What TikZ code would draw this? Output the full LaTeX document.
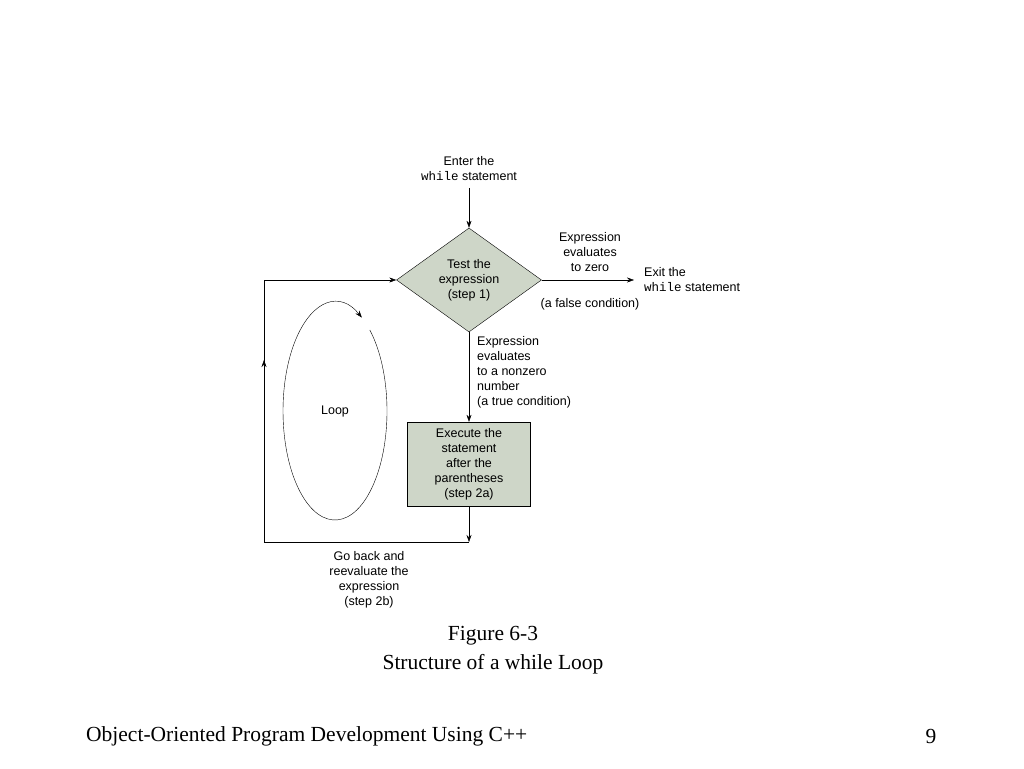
\documentclass[tikz,border=0pt]{standalone}
\usepackage{fontspec}
\setmainfont{Liberation Serif}
\setsansfont{Liberation Sans}
\setmonofont{Liberation Mono}
\usetikzlibrary{shapes.geometric,arrows.meta}
\begin{document}
\begin{tikzpicture}[x=1pt,y=1pt]
        %colores
        \definecolor{boxfill}{RGB}{206,214,200}
        \tikzset{
            flow/.style={-{Stealth[length=7pt,width=5pt]},thin},
            lbl/.style={font=\sffamily\fontsize{12.5}{15}\selectfont,align=center,inner sep=0pt},
            captext/.style={font=\fontsize{21.5}{26}\selectfont,inner sep=0pt}
        }
        \useasboundingbox (0,0) rectangle (1024,768);

        % Figura
        \node[diamond,draw,fill=boxfill,minimum width=145pt,minimum height=104pt,inner sep=0pt,lbl] (test) at (469,488) {Test the\\expression\\(step 1)};
        \node[draw,fill=boxfill,minimum width=123pt,minimum height=84pt,lbl] (exec) at (469,304) {Execute the\\statement\\after the\\parentheses\\(step 2a)};

        \node[lbl] (enter) at (469,599) {Enter the\\\texttt{while} statement};
        \node[lbl,anchor=west,align=left] (exit) at (644,488) {Exit the\\\texttt{while} statement};
        \coordinate (exitpt) at (634,488);
        \coordinate (back) at (469,226);
        \coordinate (bl) at (264,226);
        \coordinate (tl) at (264,488);

        % flechas
        \draw[flow] (469,580) -- (test.north);
        \draw[flow] (test.east) -- (exitpt);
        \draw[flow] (test.south) -- (exec.north);
        \draw[flow] (exec.south) -- (back);
        \draw (back) -- (bl) -- (tl);
        \draw[flow] (tl) -- (test.west);
        \draw[flow] (bl) -- (264,408);

        % textos
        \node[lbl] (zero) at (590,516) {Expression\\evaluates\\to zero};
        \node[lbl] (false) at (590,464) {(a false condition)};
        \node[lbl,anchor=west,align=left] (true) at (477,396) {Expression\\evaluates\\to a nonzero\\number\\(a true condition)};
        \node[lbl] (goback) at (369,188) {Go back and\\reevaluate the\\expression\\(step 2b)};

        % Loop
        \node[lbl] (loop) at (335,356) {Loop};
        \draw[-{Stealth[length=7pt,width=5pt]}] (369.8,438) arc[start angle=48,end angle=-301,x radius=52,y radius=109];

        % pie
        \node[captext] (fig) at (493,132) {Figure 6-3};
        \node[captext] (title) at (493,104) {Structure of a while Loop};
        \node[captext,anchor=west] (course) at (86,32) {Object-Oriented Program Development Using C++};
        \node[captext] (page) at (931,32) {9};
    \end{tikzpicture}
\end{document}
